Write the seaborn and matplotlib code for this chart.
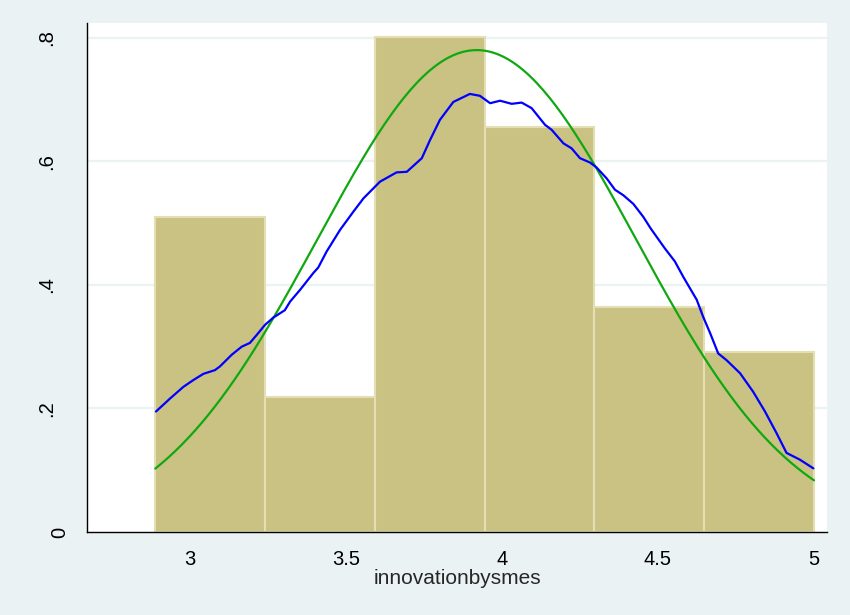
import numpy as np
import pandas as pd
import matplotlib
matplotlib.use("Agg")
import matplotlib.pyplot as plt
import matplotlib.transforms as mtransforms
import seaborn as sns

# Histogram of innovationbysmes (density scale), 6 bins
bin_edges = [2.8889, 3.2407, 3.5926, 3.9444, 4.2963, 4.6481, 5.0]
bin_counts = [7, 3, 11, 9, 5, 4]

# Fitted normal density parameters
norm_mean = 3.919
norm_sd = 0.5115

# Kernel density estimate, read as (x, density) points
kde_x = [2.891, 2.936, 2.979, 3.011, 3.043, 3.080, 3.096, 3.134, 3.166, 3.192,
         3.214, 3.240, 3.267, 3.304, 3.321, 3.353, 3.395, 3.411, 3.438, 3.481,
         3.523, 3.556, 3.609, 3.662, 3.695, 3.743, 3.769, 3.801, 3.844, 3.897,
         3.929, 3.962, 3.994, 4.031, 4.063, 4.095, 4.138, 4.159, 4.197, 4.223,
         4.250, 4.282, 4.303, 4.336, 4.362, 4.389, 4.421, 4.453, 4.477, 4.522,
         4.554, 4.581, 4.603, 4.624, 4.645, 4.667, 4.693, 4.720, 4.763, 4.805,
         4.843, 4.880, 4.912, 4.955, 4.998]
kde_y = [0.195, 0.216, 0.235, 0.246, 0.256, 0.262, 0.268, 0.287, 0.300, 0.306,
         0.319, 0.335, 0.347, 0.359, 0.373, 0.392, 0.419, 0.428, 0.454, 0.489,
         0.518, 0.540, 0.567, 0.582, 0.583, 0.605, 0.634, 0.667, 0.696, 0.709,
         0.706, 0.694, 0.698, 0.693, 0.695, 0.686, 0.659, 0.651, 0.629, 0.621,
         0.605, 0.598, 0.590, 0.572, 0.554, 0.545, 0.531, 0.510, 0.491, 0.459,
         0.438, 0.413, 0.394, 0.376, 0.348, 0.322, 0.289, 0.278, 0.257, 0.227,
         0.195, 0.160, 0.128, 0.117, 0.103]

x_ticks = [3, 3.5, 4, 4.5, 5]
x_tick_labels = ["3", "3.5", "4", "4.5", "5"]
y_ticks = [0, 0.2, 0.4, 0.6, 0.8]
y_tick_labels = ["0", ".2", ".4", ".6", ".8"]
x_label = "innovationbysmes"

BG = "#EAF2F3"
BAR = "#CAC282"
BAR_EDGE = "#E3DEB4"
KDE_BLUE = "#0000FF"
NORM_GREEN = "#10A810"

sns.set_style("white")
plt.rcParams["font.family"] = ["Liberation Sans", "DejaVu Sans"]

fig = plt.figure(figsize=(8.5, 6.15), dpi=100, facecolor=BG)
ax = fig.add_axes([87 / 850, 83 / 615, 740 / 850, 509 / 615])
ax.set_facecolor("white")

edges = [float(e) for e in bin_edges]
centers = [(a + b) / 2 for a, b in zip(edges[:-1], edges[1:])]
hist_df = pd.DataFrame({"x": centers, "n": [float(c) for c in bin_counts]})

# horizontal grid behind everything
for yv in y_ticks[1:]:
    ax.axhline(yv, color=BG, lw=1.6, zorder=0)

sns.histplot(data=hist_df, x="x", weights="n", bins=edges, stat="density",
             color=BAR, edgecolor=BAR_EDGE, linewidth=1.5, alpha=1.0,
             ax=ax, zorder=2)

# normal density curve
nx = np.linspace(edges[0], edges[-1], 200)
ny = np.exp(-0.5 * ((nx - norm_mean) / norm_sd) ** 2) / (norm_sd * np.sqrt(2 * np.pi))
sns.lineplot(x=nx, y=ny, color=NORM_GREEN, lw=1.6, sort=False, ax=ax, zorder=3)

# kernel density curve
sns.lineplot(x=kde_x, y=kde_y, color=KDE_BLUE, lw=1.6, sort=False, ax=ax, zorder=4)

ax.set_xlim(2.6699, 5.0417)
ax.set_ylim(0, 0.8238)

ax.set_xticks(x_ticks)
ax.set_xticklabels(x_tick_labels, fontsize=14.5)
ax.set_yticks(y_ticks)
ax.set_yticklabels(y_tick_labels, fontsize=14.5, rotation=90, va="center")
ax.tick_params(axis="both", direction="out", length=8, width=1.0,
               color="#444444", labelcolor="black")
ax.tick_params(axis="x", pad=5)
ax.tick_params(axis="y", pad=14)

# the bottom "0" label sits closer to the axis
zero_lbl = ax.get_yticklabels()[0]
zero_lbl.set_transform(zero_lbl.get_transform() +
                       mtransforms.ScaledTranslation(13 / 100, 0, fig.dpi_scale_trans))

ax.set_xlabel(x_label, fontsize=15, labelpad=0)
ax.set_ylabel("")

for side in ["top", "right"]:
    ax.spines[side].set_visible(False)
ax.spines["left"].set_color("black")
ax.spines["bottom"].set_color("black")
ax.spines["left"].set_linewidth(1.0)
ax.spines["bottom"].set_linewidth(1.0)

fig.savefig("out.png", dpi=100, facecolor=BG)
